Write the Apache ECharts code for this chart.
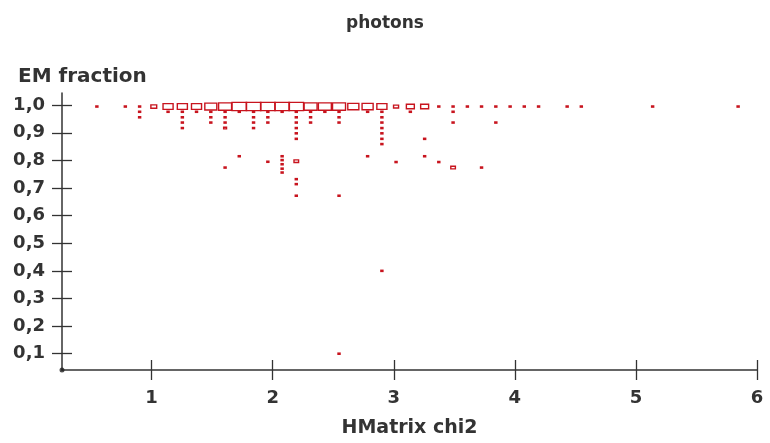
<!DOCTYPE html>
<html>
<head>
<meta charset="utf-8">
<script src="https://cdn.jsdelivr.net/npm/echarts@6.0.0/dist/echarts.min.js"></script>
<style>
html,body{margin:0;padding:0;background:#ffffff;}
#chart{width:770px;height:443px;}
</style>
</head>
<body>
<div id="chart"></div>
<script>
// ---- texts ----
const chartTitle = 'photons';
const xAxisTitle = 'HMatrix chi2';
const yAxisTitle = 'EM fraction';

// ---- axis ranges & ticks ----
const xRange = [0.26, 6.0];
const yRange = [0.041, 1.044];
const xTicks = [1, 2, 3, 4, 5, 6];
const yTicks = [0.1, 0.2, 0.3, 0.4, 0.5, 0.6, 0.7, 0.8, 0.9, 1.0];

// ---- 2D histogram cells (bin centre x, bin centre y, entries) ----
const cellX = [
  // top row (EM fraction ~ 1)
  0.548, 0.783, 0.901, 1.018, 1.136, 1.254, 1.371, 1.489, 1.607, 1.724,
  1.842, 1.960, 2.078, 2.195, 2.313, 2.431, 2.548, 2.666, 2.784, 2.902,
  3.019, 3.137, 3.255, 3.372, 3.490, 3.608, 3.725, 3.843, 3.961, 4.078,
  4.196, 4.432, 4.549, 5.138, 5.844,
  // tails just below 1
  0.901, 0.901,
  1.136,
  1.254, 1.254, 1.254, 1.254,
  1.371,
  1.489, 1.489, 1.489,
  1.607, 1.607, 1.607, 1.607,
  1.724,
  1.842, 1.842, 1.842, 1.842,
  1.960, 1.960, 1.960,
  2.078,
  2.195, 2.195, 2.195, 2.195, 2.195, 2.195,
  2.313, 2.313, 2.313,
  2.431,
  2.548, 2.548, 2.548,
  2.784,
  2.902, 2.902, 2.902, 2.902, 2.902, 2.902, 2.902,
  3.137,
  3.255,
  3.490, 3.490,
  3.843,
  // low cluster
  1.607, 1.724, 1.960,
  2.078, 2.078, 2.078, 2.078, 2.078,
  2.195, 2.195, 2.195, 2.195,
  2.548, 2.548,
  2.784, 2.902, 3.019, 3.255, 3.372, 3.490, 3.725
];
const cellY = [
  0.995, 0.995, 0.995, 0.995, 0.995, 0.995, 0.995, 0.995, 0.995, 0.995,
  0.995, 0.995, 0.995, 0.995, 0.995, 0.995, 0.995, 0.995, 0.995, 0.995,
  0.995, 0.995, 0.995, 0.995, 0.995, 0.995, 0.995, 0.995, 0.995, 0.995,
  0.995, 0.995, 0.995, 0.995, 0.995,
  0.976, 0.956,
  0.976,
  0.976, 0.956, 0.937, 0.917,
  0.976,
  0.976, 0.956, 0.937,
  0.976, 0.956, 0.937, 0.917,
  0.976,
  0.976, 0.956, 0.937, 0.917,
  0.976, 0.956, 0.937,
  0.976,
  0.976, 0.956, 0.937, 0.917, 0.898, 0.878,
  0.976, 0.956, 0.937,
  0.976,
  0.976, 0.956, 0.937,
  0.976,
  0.976, 0.956, 0.937, 0.917, 0.898, 0.878, 0.859,
  0.976,
  0.878,
  0.976, 0.937,
  0.937,
  0.774, 0.815, 0.795,
  0.815, 0.801, 0.786, 0.770, 0.756,
  0.797, 0.732, 0.714, 0.672,
  0.672, 0.100,
  0.815, 0.400, 0.794, 0.815, 0.794, 0.774, 0.774
];
const cellCount = [
  1, 1, 1, 8, 24, 24, 24, 34, 40, 50,
  50, 50, 50, 50, 40, 40, 40, 29, 29, 24,
  6, 15, 15, 1, 1, 1, 1, 1, 1, 1,
  1, 1, 1, 1, 1,
  1, 1,
  1,
  1, 1, 1, 1,
  1,
  1, 1, 1,
  1, 1, 1, 2,
  1,
  1, 1, 1, 1,
  1, 1, 1,
  1,
  1, 1, 1, 1, 1, 1,
  1, 1, 1,
  1,
  1, 1, 1,
  1,
  1, 1, 1, 1, 1, 1, 1,
  1,
  1,
  1, 1,
  1,
  1, 1, 1,
  1, 1, 1, 1, 1,
  5, 1, 1, 1,
  1, 1,
  1, 1, 1, 1, 1, 5, 1
];

// histogram bin geometry (max box size, in data units) and max entries
const BOX_W = 0.12;
const BOX_H = 0.030;
const MAX_COUNT = 50;

const cells = cellX.map((x, i) => [x, cellY[i], cellCount[i]]);

const FONT = 'DejaVu Sans';
const AXIS_COLOR = '#333333';
const BOX_COLOR = '#c8141e';

const chart = echarts.init(document.getElementById('chart'), null, {renderer: 'canvas'});

const tickStyle = {color: AXIS_COLOR, width: 1.3};

chart.setOption({
  animation: false,
  backgroundColor: '#ffffff',
  title: [
    {text: chartTitle, left: 'center', top: 10,
     textStyle: {fontFamily: FONT, fontWeight: 'bold', fontSize: 17, color: '#333333'}},
    {text: yAxisTitle, left: 13, top: 62,
     textStyle: {fontFamily: FONT, fontWeight: 'bold', fontSize: 20, color: '#333333'}}
  ],
  grid: {left: 62, right: 13, top: 93, bottom: 71, containLabel: false},
  xAxis: [
    {
      type: 'value', min: xRange[0], max: xRange[1], position: 'bottom',
      name: xAxisTitle, nameLocation: 'middle', nameGap: 49,
      nameTextStyle: {fontFamily: FONT, fontWeight: 'bold', fontSize: 19, color: '#333333'},
      axisLine: {show: true, lineStyle: {color: AXIS_COLOR, width: 1.5}},
      axisTick: {show: true, length: 10, customValues: xTicks, lineStyle: tickStyle},
      axisLabel: {customValues: xTicks, margin: 19, fontFamily: FONT, fontWeight: 'bold',
                  fontSize: 18, color: '#333333'},
      splitLine: {show: false}
    },
    {
      type: 'value', min: xRange[0], max: xRange[1], position: 'bottom',
      axisLine: {show: false},
      axisTick: {show: true, inside: true, length: 10, customValues: xTicks, lineStyle: tickStyle},
      axisLabel: {show: false},
      splitLine: {show: false}
    }
  ],
  yAxis: [
    {
      type: 'value', min: yRange[0], max: yRange[1], position: 'left',
      axisLine: {show: true, lineStyle: {color: AXIS_COLOR, width: 1.5}},
      axisTick: {show: true, length: 10, customValues: yTicks, lineStyle: tickStyle},
      axisLabel: {customValues: yTicks, margin: 17, fontFamily: FONT, fontWeight: 'bold',
                  fontSize: 18, color: '#333333',
                  formatter: v => v.toFixed(1).replace('.', ',')},
      splitLine: {show: false}
    },
    {
      type: 'value', min: yRange[0], max: yRange[1], position: 'left',
      axisLine: {show: false},
      axisTick: {show: true, inside: true, length: 10, customValues: yTicks, lineStyle: tickStyle},
      axisLabel: {show: false},
      splitLine: {show: false}
    }
  ],
  series: [
    {
      type: 'custom',
      xAxisIndex: 0, yAxisIndex: 0,
      data: cells,
      clip: false,
      renderItem: function (params, api) {
        const c = api.coord([api.value(0), api.value(1)]);
        const s = api.size([BOX_W, BOX_H]);
        const f = Math.sqrt(api.value(2) / MAX_COUNT);
        const w = s[0] * f;
        const h = s[1] * f;
        return {
          type: 'rect',
          shape: {x: c[0] - w / 2, y: c[1] - h / 2, width: w, height: h},
          style: {fill: 'none', stroke: BOX_COLOR, lineWidth: 1.4}
        };
      }
    },
    {
      // axes origin marker
      type: 'scatter', xAxisIndex: 0, yAxisIndex: 0,
      data: [[xRange[0], yRange[0]]],
      symbol: 'circle', symbolSize: 5,
      itemStyle: {color: '#222222'},
      silent: true
    }
  ]
});
</script>
</body>
</html>
